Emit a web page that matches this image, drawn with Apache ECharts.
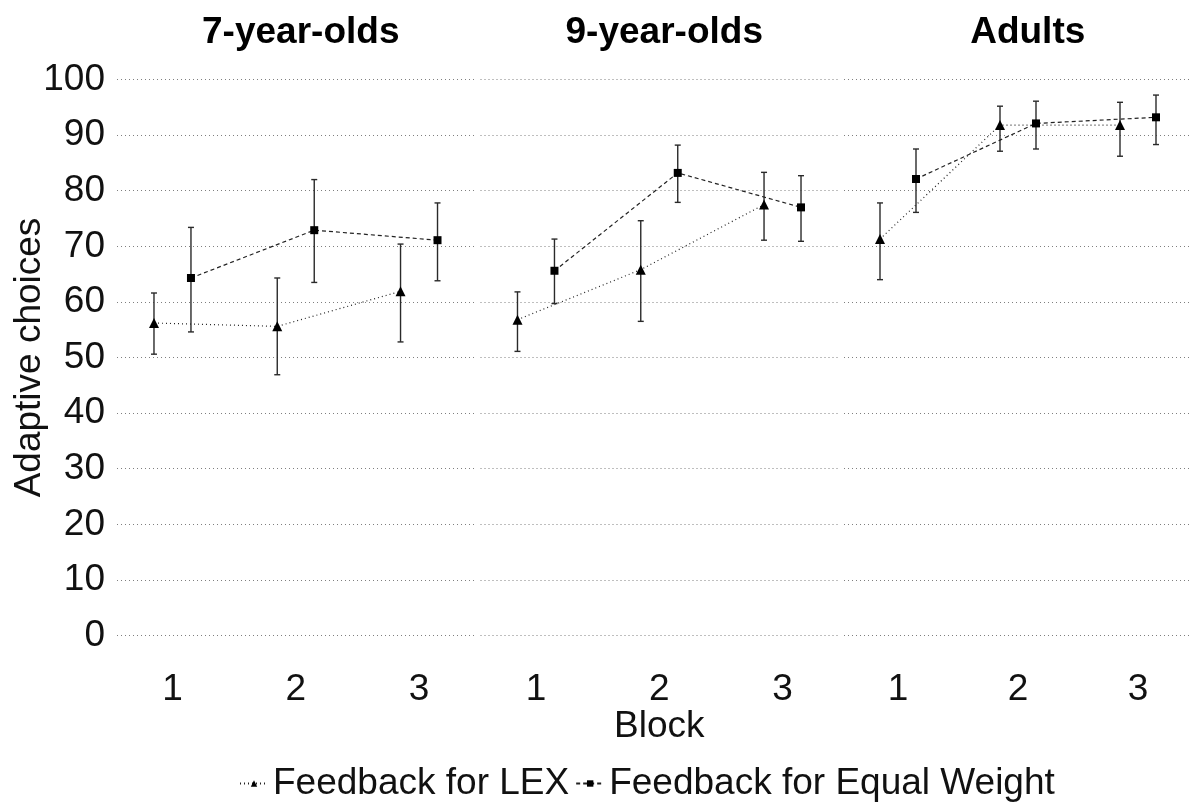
<!DOCTYPE html>
<html>
<head>
<meta charset="utf-8">
<script src="https://cdn.jsdelivr.net/npm/echarts@6/dist/echarts.min.js"></script>
<style>
html,body{margin:0;padding:0;background:#fff;}
#chart{width:1192px;height:805px;}
</style>
</head>
<body>
<div id="chart"></div>
<script>
// ---- data ----
const blocks = [1, 2, 3];
const groups = ['7-year-olds', '9-year-olds', 'Adults'];
const seriesNames = ['Feedback for LEX', 'Feedback for Equal Weight'];
const yTicks = [0, 10, 20, 30, 40, 50, 60, 70, 80, 90, 100];

const lexMean = [[56.2, 55.6, 61.9], [56.8, 65.8, 77.5], [71.3, 91.8, 91.8]];
const lexLow  = [[50.6, 46.9, 52.8], [51.1, 56.5, 71.1], [64.0, 87.1, 86.2]];
const lexHigh = [[61.6, 64.3, 70.4], [61.8, 74.6, 83.3], [77.8, 95.2, 95.9]];

const ewMean = [[64.3, 72.9, 71.1], [65.6, 83.2, 77.0], [82.1, 92.1, 93.2]];
const ewLow  = [[54.6, 63.5, 63.8], [59.7, 77.9, 70.9], [76.1, 87.5, 88.3]];
const ewHigh = [[73.4, 82.0, 77.8], [71.3, 88.2, 82.7], [87.5, 96.1, 97.2]];

// ---- layout / style ----
const FONT = '"Liberation Sans", Arial, sans-serif';
const FS = 37;
const dodge = 0.15;
const panelLeft = [117, 480.5, 844];
const panelWidth = 357.5;
const plotTop = 79.5, plotHeight = 556;

const grids = [], xAxes = [], yAxes = [], series = [], titles = [];

function errorSeries(gi, name, offset, low, high) {
  const data = blocks.map((b, i) => [b + offset, low[gi][i], high[gi][i]]);
  return {
    type: 'custom', name: name + ' (error)', xAxisIndex: gi, yAxisIndex: gi, z: 2,
    silent: true,
    data: data,
    renderItem: function (params, api) {
      const x = api.value(0);
      const lo = api.coord([x, api.value(1)]);
      const hi = api.coord([x, api.value(2)]);
      const w = 3;
      const st = { stroke: '#2a2a2a', lineWidth: 1.4 };
      return {
        type: 'group',
        children: [
          { type: 'line', shape: { x1: lo[0], y1: lo[1], x2: hi[0], y2: hi[1] }, style: st },
          { type: 'line', shape: { x1: lo[0] - w, y1: lo[1], x2: lo[0] + w, y2: lo[1] }, style: st },
          { type: 'line', shape: { x1: hi[0] - w, y1: hi[1], x2: hi[0] + w, y2: hi[1] }, style: st }
        ]
      };
    }
  };
}

groups.forEach((g, gi) => {
  grids.push({ left: panelLeft[gi], width: panelWidth, top: plotTop, height: plotHeight, containLabel: false });
  xAxes.push({
    type: 'value', gridIndex: gi, min: 0.55, max: 3.45,
    axisLine: { show: false }, axisTick: { show: false },
    splitLine: { show: false },
    axisLabel: {
      customValues: blocks, formatter: v => String(v),
      fontFamily: FONT, fontSize: FS, color: '#111', margin: 36
    },
    name: gi === 1 ? 'Block' : '',
    nameLocation: 'middle', nameGap: 73, nameMoveOverlap: false,
    nameTextStyle: { fontFamily: FONT, fontSize: FS, color: '#111' }
  });
  yAxes.push({
    type: 'value', gridIndex: gi, min: 0, max: 100, interval: 10,
    axisLine: { show: false }, axisTick: { show: false },
    axisLabel: { show: gi === 0, fontFamily: FONT, fontSize: FS, color: '#111', margin: 12,
      customValues: yTicks },
    splitLine: { show: true, lineStyle: { color: '#7f7f7f', type: [1, 3], width: 1 } },
    name: gi === 0 ? 'Adaptive choices' : '',
    nameLocation: 'middle', nameGap: 69, nameMoveOverlap: false,
    nameTextStyle: { fontFamily: FONT, fontSize: FS, color: '#111' }
  });
  titles.push({
    text: g, left: panelLeft[gi] + panelWidth / 2, top: 9, textAlign: 'center',
    textStyle: { fontFamily: FONT, fontSize: FS, fontWeight: 'bold', color: '#000' }
  });

  series.push(errorSeries(gi, seriesNames[0], -dodge, lexLow, lexHigh));
  series.push(errorSeries(gi, seriesNames[1], dodge, ewLow, ewHigh));

  series.push({
    type: 'line', name: seriesNames[0], xAxisIndex: gi, yAxisIndex: gi, z: 3,
    data: blocks.map((b, i) => [b - dodge, lexMean[gi][i]]),
    symbol: 'triangle', symbolSize: 10, showSymbol: true,
    itemStyle: { color: '#000' },
    lineStyle: { color: '#222', width: 1.2, type: [1, 3] },
    animation: false
  });
  series.push({
    type: 'line', name: seriesNames[1], xAxisIndex: gi, yAxisIndex: gi, z: 3,
    data: blocks.map((b, i) => [b + dodge, ewMean[gi][i]]),
    symbol: 'rect', symbolSize: 8, showSymbol: true,
    itemStyle: { color: '#000' },
    lineStyle: { color: '#222', width: 1.2, type: [4, 3] },
    animation: false
  });
});

const chart = echarts.init(document.getElementById('chart'), null, { renderer: 'canvas' });
chart.setOption({
  backgroundColor: '#fff',
  animation: false,
  title: titles,
  grid: grids,
  xAxis: xAxes,
  yAxis: yAxes,
  legend: {
    data: seriesNames,
    left: 234, top: 760,
    itemWidth: 28, itemHeight: 8, itemGap: 6,
    textStyle: { fontFamily: FONT, fontSize: FS, color: '#111' },
    selectedMode: false
  },
  series: series
});
</script>
</body>
</html>
